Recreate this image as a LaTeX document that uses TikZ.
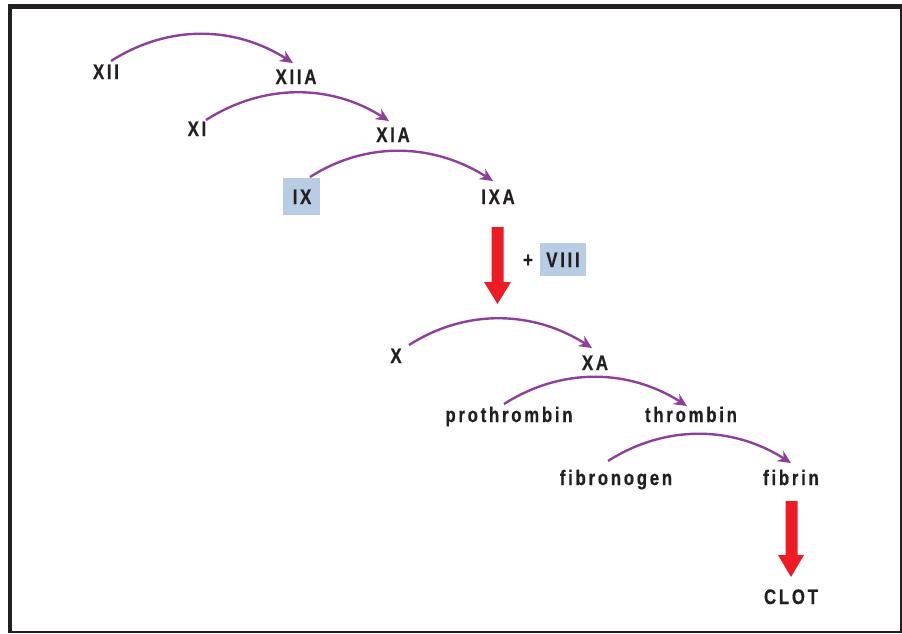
\documentclass[tikz,border=0pt]{standalone}
\usepackage{fontspec}
\newfontfamily\lblfont{Liberation Sans Bold}[FakeStretch=0.80,LetterSpace=13,FakeBold=0.6]
\usetikzlibrary{arrows.meta}
\definecolor{ink}{HTML}{231F20}
\definecolor{arcpurple}{HTML}{8E3F9C}
\definecolor{boxblue}{HTML}{B8CCE4}
\definecolor{arrowred}{HTML}{ED1C24}
\tikzset{
  lbl/.style={inner sep=0pt, anchor=base, text=ink, font=\lblfont\fontsize{21}{24}\selectfont},
  hlbox/.style={fill=boxblue, draw=none},
  conv/.style={draw=arcpurple, line width=2.4pt, -{Stealth[length=13pt,width=12pt]}},
  bigarrow/.style={fill=arrowred, draw=none},
  framebar/.style={fill=ink, draw=none}
}
\begin{document}
\begin{tikzpicture}[x=1pt,y=-1pt]
\useasboundingbox (0,0) rectangle (902,633);
% frame
\fill[framebar] (8,4) rectangle (902,9);
\fill[framebar] (8,4) rectangle (12,633);
\fill[framebar] (899.5,4) rectangle (902,633);
\fill[framebar] (8,630.5) rectangle (902,633);
% highlight boxes
\fill[hlbox] (283,178) rectangle (320,215);
\fill[hlbox] (540,243) rectangle (586,276);
% labels
\node[lbl] (xii)   at (106,79)  {XII};
\node[lbl] (xiia)  at (296,84)  {XIIA};
\node[lbl] (xi)    at (197,136) {XI};
\node[lbl] (xia)   at (393,142) {XIA};
\node[lbl] (ix)    at (302,204) {IX};
\node[lbl] (ixa)   at (498,204) {IXA};
\node[lbl] (plus)  at (528,267) {+};
\node[lbl] (viii)  at (563,267) {VIII};
\node[lbl] (x)     at (396,363) {X};
\node[lbl] (xa)    at (595,370) {XA};
\node[lbl] (pro)   at (509,422) {prothrombin};
\node[lbl] (thr)   at (691,422) {thrombin};
\node[lbl] (fbg)   at (616,485) {fibronogen};
\node[lbl] (fib)   at (791,485) {fibrin};
\node[lbl] (clot)  at (791,604) {CLOT};
% conversion arcs
\coordinate (s1) at (111,61);  \coordinate (e1) at (293,63);
\coordinate (s2) at (206,120); \coordinate (e2) at (389,121);
\coordinate (s3) at (310,177); \coordinate (e3) at (493,181);
\coordinate (s4) at (409,345); \coordinate (e4) at (592,348);
\coordinate (s5) at (504,404); \coordinate (e5) at (687,406);
\coordinate (s6) at (608,461); \coordinate (e6) at (791,463);
\draw[conv] (s1) .. controls ([shift={(58,-37)}]s1) and ([shift={(-58,-37)}]e1) .. (e1);
\draw[conv] (s2) .. controls ([shift={(58,-37)}]s2) and ([shift={(-58,-37)}]e2) .. (e2);
\draw[conv] (s3) .. controls ([shift={(58,-37)}]s3) and ([shift={(-58,-37)}]e3) .. (e3);
\draw[conv] (s4) .. controls ([shift={(58,-37)}]s4) and ([shift={(-58,-37)}]e4) .. (e4);
\draw[conv] (s5) .. controls ([shift={(58,-37)}]s5) and ([shift={(-58,-37)}]e5) .. (e5);
\draw[conv] (s6) .. controls ([shift={(58,-37)}]s6) and ([shift={(-58,-37)}]e6) .. (e6);
% big red arrows
\fill[bigarrow] (491.5,227) -- (503.5,227) -- (503.5,282) -- (511,282) -- (497.5,304) -- (484,282) -- (491.5,282) -- cycle;
\fill[bigarrow] (785.5,501) -- (797.5,501) -- (797.5,555) -- (804,555) -- (791,577) -- (778,555) -- (785.5,555) -- cycle;
\end{tikzpicture}
\end{document}
